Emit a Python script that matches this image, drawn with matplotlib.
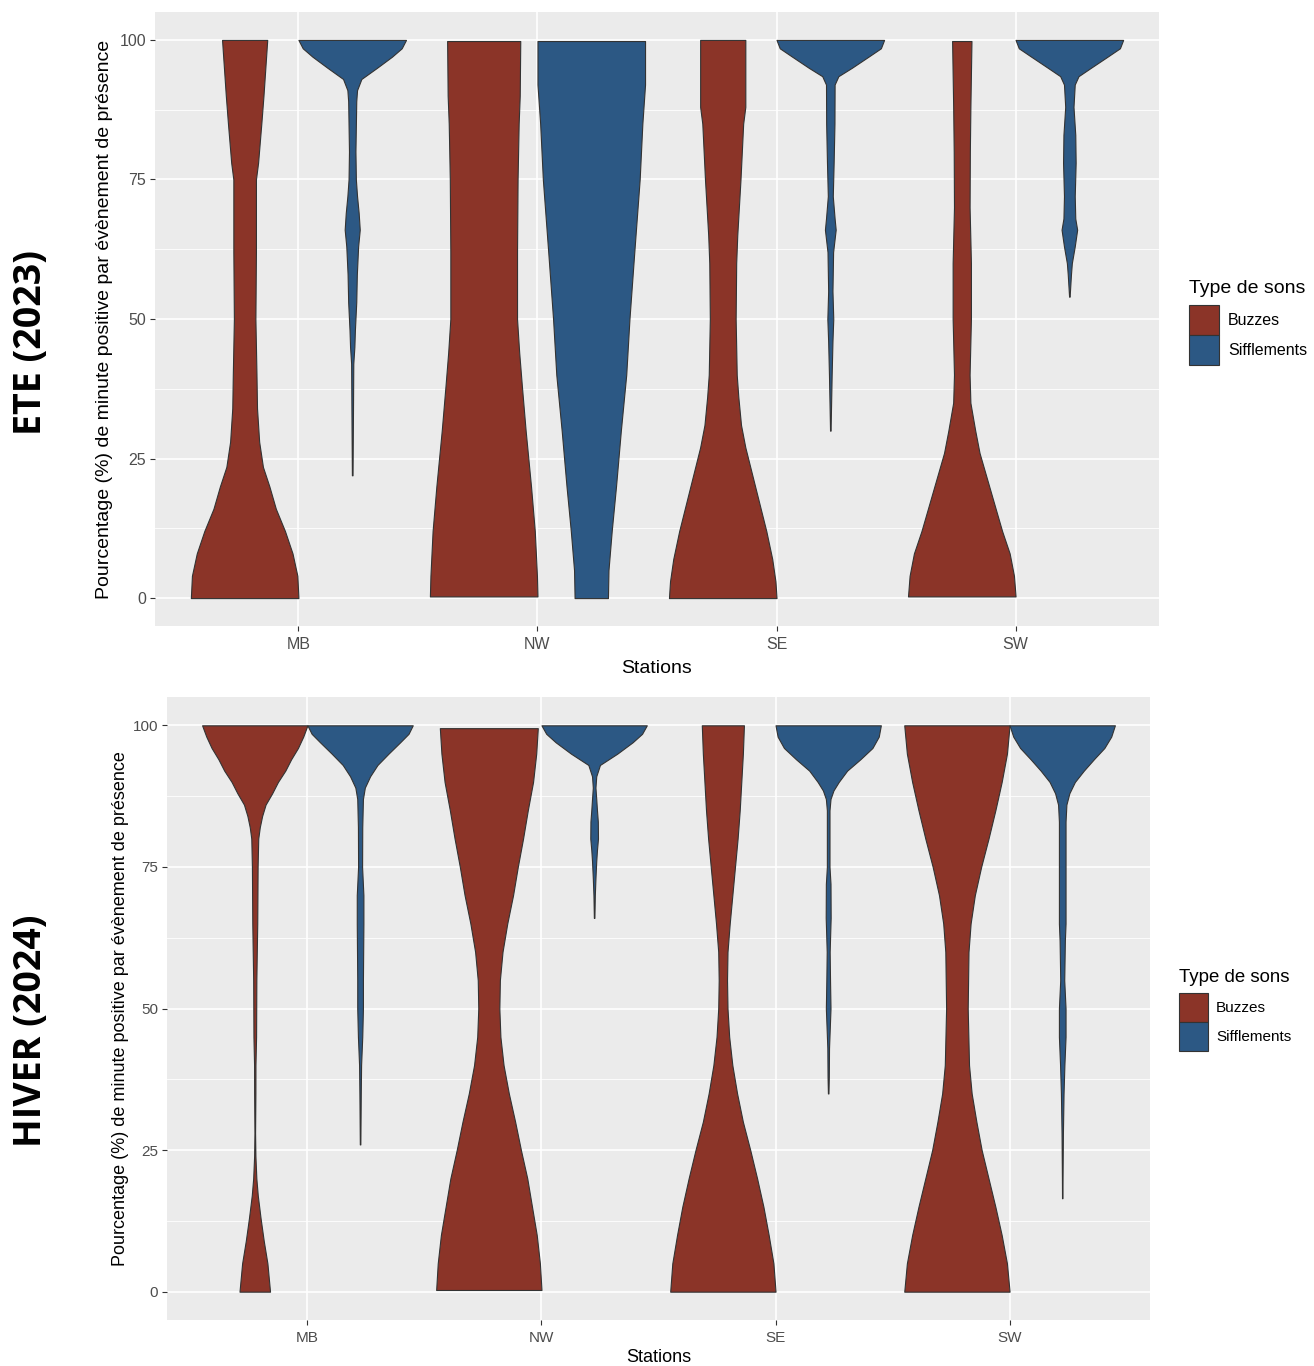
import matplotlib
matplotlib.use("Agg")
import matplotlib.pyplot as plt
from matplotlib.patches import Patch
import numpy as np

plt.rcParams['font.family'] = ['Liberation Sans', 'DejaVu Sans']

stations = ["MB", "NW", "SE", "SW"]
types = ["Buzzes", "Sifflements"]
colors = {"Buzzes": "#8B3428", "Sifflements": "#2C5884"}
yticks = [0, 25, 50, 75, 100]

# ---- ETE (2023): y levels (%) and relative violin width (0..1) ----
ete_mb_buzz_y = [100, 90, 85, 78, 75, 62, 50, 40, 34, 28, 23.5, 20, 16, 12, 8, 4, 0]
ete_mb_buzz_w = [0.42, 0.35, 0.31, 0.25, 0.21, 0.21, 0.20, 0.22, 0.23, 0.27, 0.34, 0.46, 0.58, 0.75, 0.89, 0.98, 1.0]
ete_mb_siff_y = [100, 98.5, 97, 95, 93, 91, 89, 80, 75, 72, 69, 66, 63, 58, 53, 48, 45, 42, 30, 22]
ete_mb_siff_w = [1.0, 0.92, 0.74, 0.46, 0.17, 0.09, 0.075, 0.06, 0.068, 0.09, 0.12, 0.14, 0.11, 0.086, 0.075, 0.05, 0.04, 0.02, 0.012, 0.006]
ete_nw_buzz_y = [99.8, 90, 85, 75, 62, 50, 44, 38, 30, 20, 12, 4, 0.3]
ete_nw_buzz_w = [0.68, 0.67, 0.65, 0.63, 0.62, 0.62, 0.66, 0.71, 0.78, 0.88, 0.95, 0.99, 1.0]
ete_nw_siff_y = [99.8, 92, 85, 75, 62, 50, 40, 30, 20, 12, 5, 0]
ete_nw_siff_w = [1.0, 1.0, 0.95, 0.90, 0.80, 0.71, 0.65, 0.55, 0.46, 0.38, 0.32, 0.31]
ete_se_buzz_y = [100, 88, 85, 75, 65, 60, 50, 40, 36, 31, 27, 22, 17, 12, 7, 3, 0]
ete_se_buzz_w = [0.42, 0.42, 0.38, 0.33, 0.27, 0.25, 0.24, 0.26, 0.29, 0.34, 0.42, 0.55, 0.68, 0.81, 0.92, 0.98, 1.0]
ete_se_siff_y = [100, 98.5, 97, 95, 93.5, 92, 85, 78, 72, 68, 66, 62, 55, 50, 46, 40, 35, 30]
ete_se_siff_w = [1.0, 0.94, 0.71, 0.40, 0.15, 0.08, 0.077, 0.062, 0.046, 0.08, 0.10, 0.052, 0.04, 0.055, 0.04, 0.025, 0.015, 0.005]
ete_sw_buzz_y = [99.8, 88, 80, 70, 60, 50, 40, 35, 30, 26, 22, 17, 12, 8, 4, 0.3]
ete_sw_buzz_w = [0.18, 0.16, 0.15, 0.145, 0.17, 0.17, 0.145, 0.16, 0.25, 0.33, 0.45, 0.60, 0.75, 0.89, 0.97, 1.0]
ete_sw_siff_y = [100, 98.5, 97, 95, 93.5, 92, 88, 83, 78, 72, 68, 66, 63, 60, 58, 54]
ete_sw_siff_w = [1.0, 0.94, 0.71, 0.40, 0.17, 0.10, 0.077, 0.11, 0.117, 0.10, 0.11, 0.145, 0.10, 0.046, 0.03, 0.005]

# ---- HIVER (2024) ----
hiv_mb_buzz_y = [100, 98, 96, 94, 92, 90, 88, 86, 84, 82, 80, 75, 65, 55, 45, 40, 35, 28, 24, 20, 17, 13, 9, 5, 2, 0]
hiv_mb_buzz_w = [1.0, 0.92, 0.82, 0.69, 0.58, 0.44, 0.33, 0.205, 0.14, 0.095, 0.066, 0.054, 0.047, 0.03, 0.025, 0.013, 0.012, 0.006, 0.012, 0.03, 0.057, 0.11, 0.17, 0.24, 0.27, 0.29]
hiv_mb_siff_y = [100, 98.5, 97, 95, 93, 91, 89, 87, 82, 75, 70, 65, 55, 50, 45, 40, 35, 26]
hiv_mb_siff_w = [1.0, 0.92, 0.76, 0.54, 0.33, 0.19, 0.09, 0.054, 0.041, 0.038, 0.063, 0.063, 0.054, 0.054, 0.041, 0.019, 0.013, 0.005]
hiv_nw_buzz_y = [99.5, 95, 90, 85, 80, 75, 70, 65, 60, 55, 50, 45, 40, 35, 30, 25, 20, 15, 10, 5, 0.3]
hiv_nw_buzz_w = [0.93, 0.90, 0.84, 0.74, 0.65, 0.55, 0.46, 0.35, 0.26, 0.21, 0.20, 0.22, 0.28, 0.38, 0.50, 0.61, 0.73, 0.82, 0.91, 0.97, 1.0]
hiv_nw_siff_y = [100, 98.5, 97, 95, 93, 91, 89, 87, 85, 83, 80, 78, 76, 73, 70, 66]
hiv_nw_siff_w = [1.0, 0.91, 0.73, 0.44, 0.11, 0.04, 0.025, 0.04, 0.054, 0.07, 0.073, 0.054, 0.04, 0.025, 0.013, 0.005]
hiv_se_buzz_y = [100, 95, 90, 85, 80, 75, 70, 65, 60, 55, 50, 45, 40, 35, 30, 25, 20, 15, 10, 5, 0]
hiv_se_buzz_w = [0.40, 0.38, 0.35, 0.32, 0.28, 0.23, 0.18, 0.13, 0.088, 0.079, 0.088, 0.12, 0.18, 0.27, 0.38, 0.52, 0.65, 0.77, 0.87, 0.96, 1.0]
hiv_se_siff_y = [100, 98, 96, 94, 92, 90, 88.5, 87, 85, 75, 72, 66, 60, 55, 50, 46, 43, 38, 35]
hiv_se_siff_w = [1.0, 0.96, 0.84, 0.61, 0.36, 0.2, 0.1, 0.044, 0.025, 0.025, 0.044, 0.047, 0.028, 0.035, 0.044, 0.028, 0.016, 0.012, 0.005]
hiv_sw_buzz_y = [100, 95, 90, 85, 80, 75, 70, 65, 60, 50, 40, 35, 30, 25, 20, 15, 10, 5, 0]
hiv_sw_buzz_w = [1.0, 0.95, 0.85, 0.73, 0.60, 0.46, 0.34, 0.26, 0.22, 0.205, 0.23, 0.28, 0.37, 0.47, 0.60, 0.73, 0.85, 0.95, 1.0]
hiv_sw_siff_y = [100, 98, 96, 94, 92, 90, 88, 86, 83, 75, 65, 62, 55, 50, 45, 40, 35, 28, 20, 16.5]
hiv_sw_siff_w = [1.0, 0.93, 0.80, 0.60, 0.41, 0.24, 0.135, 0.079, 0.063, 0.063, 0.063, 0.05, 0.038, 0.063, 0.063, 0.041, 0.025, 0.013, 0.006, 0.004]

ete = {
    ("MB", "Buzzes"): (ete_mb_buzz_y, ete_mb_buzz_w), ("MB", "Sifflements"): (ete_mb_siff_y, ete_mb_siff_w),
    ("NW", "Buzzes"): (ete_nw_buzz_y, ete_nw_buzz_w), ("NW", "Sifflements"): (ete_nw_siff_y, ete_nw_siff_w),
    ("SE", "Buzzes"): (ete_se_buzz_y, ete_se_buzz_w), ("SE", "Sifflements"): (ete_se_siff_y, ete_se_siff_w),
    ("SW", "Buzzes"): (ete_sw_buzz_y, ete_sw_buzz_w), ("SW", "Sifflements"): (ete_sw_siff_y, ete_sw_siff_w),
}
hiver = {
    ("MB", "Buzzes"): (hiv_mb_buzz_y, hiv_mb_buzz_w), ("MB", "Sifflements"): (hiv_mb_siff_y, hiv_mb_siff_w),
    ("NW", "Buzzes"): (hiv_nw_buzz_y, hiv_nw_buzz_w), ("NW", "Sifflements"): (hiv_nw_siff_y, hiv_nw_siff_w),
    ("SE", "Buzzes"): (hiv_se_buzz_y, hiv_se_buzz_w), ("SE", "Sifflements"): (hiv_se_siff_y, hiv_se_siff_w),
    ("SW", "Buzzes"): (hiv_sw_buzz_y, hiv_sw_buzz_w), ("SW", "Sifflements"): (hiv_sw_siff_y, hiv_sw_siff_w),
}

ylabel = "Pourcentage (%) de minute positive par évènement de présence"

fig = plt.figure(figsize=(13.14, 13.66), dpi=100)
W, H = 1314, 1366

def panel(rect_px, data, tick_fs, title_fs, lab_fs, leg_title_fs, leg_xy, ylab_x,
          hlen, hheight, xlabpad, title_gap):
    l, t, r, b = rect_px
    ax = fig.add_axes([l / W, 1 - b / H, (r - l) / W, (b - t) / H])
    ax.set_facecolor("#EBEBEB")
    for s in ax.spines.values():
        s.set_visible(False)
    dodge = 0.225
    for i, st in enumerate(stations):
        for j, tp in enumerate(types):
            yv, wv = data[(st, tp)]
            xc = (i + 1) + (-dodge if j == 0 else dodge)
            hw = np.array(wv) * 0.225
            ax.fill_betweenx(yv, xc - hw, xc + hw, facecolor=colors[tp],
                             edgecolor="#333333", linewidth=0.8, zorder=3)
    ax.set_xlim(0.4, 4.6)
    ax.set_ylim(-5, 105)
    ax.set_xticks(range(1, 5))
    ax.set_xticklabels(stations)
    ax.set_yticks(yticks)
    ax.set_yticks([12.5, 37.5, 62.5, 87.5], minor=True)
    ax.grid(which="major", color="white", linewidth=1.2, zorder=0)
    ax.grid(which="minor", axis="y", color="white", linewidth=0.6, zorder=0)
    ax.set_axisbelow(True)
    ax.tick_params(which="major", length=3.5, width=0.8, color="#333333",
                   labelsize=tick_fs, labelcolor="#4D4D4D", pad=3)
    ax.tick_params(axis="x", which="major", pad=4.5)
    ax.tick_params(which="minor", length=0)
    ax.set_xlabel("Stations", fontsize=title_fs, labelpad=xlabpad)
    ax.set_ylabel(ylabel, fontsize=title_fs)
    ax.yaxis.set_label_coords(ylab_x, 0.5)
    handles = [Patch(facecolor=colors[tp], edgecolor="#333333", linewidth=0.8, label=tp) for tp in types]
    leg = ax.legend(handles=handles, loc="upper left", bbox_to_anchor=(leg_xy[0] / W, 1 - leg_xy[1] / H),
                    bbox_transform=fig.transFigure, frameon=False, title="Type de sons",
                    title_fontsize=leg_title_fs, fontsize=lab_fs, handlelength=hlen,
                    handleheight=hheight, labelspacing=0.0, handletextpad=0.55, borderpad=0,
                    alignment="left")
    leg._legend_box.sep = title_gap
    return ax

panel((155, 12, 1159, 626), ete, 11.5, 14, 11.5, 14, (1181, 272), -0.042, 1.9, 2.5, 6, 6)
panel((167, 697, 1150, 1320), hiver, 11, 13, 11, 13.4, (1171, 961), -0.039, 1.9, 2.55, 3, 5)

fig.text(31 / W, 1 - 343 / H, "ETE (2023)", rotation=90, ha="center", va="center",
         fontsize=27, fontweight="bold", family=["Open Sans", "DejaVu Sans"])
fig.text(31 / W, 1 - 1031 / H, "HIVER (2024)", rotation=90, ha="center", va="center",
         fontsize=27, fontweight="bold", family=["Open Sans", "DejaVu Sans"])

fig.savefig("out.png", dpi=100)
